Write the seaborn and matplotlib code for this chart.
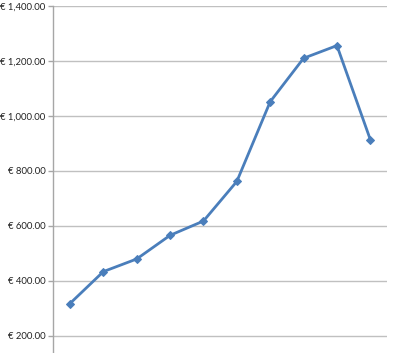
import matplotlib
matplotlib.use("Agg")
import matplotlib.pyplot as plt
import seaborn as sns
import pandas as pd
from matplotlib.ticker import FuncFormatter

periods = [1, 2, 3, 4, 5, 6, 7, 8, 9, 10]
values = [318, 434, 480, 566, 618, 762, 1052, 1210, 1256, 914]
yticks = [200, 400, 600, 800, 1000, 1200, 1400]

df = pd.DataFrame({"period": periods, "value": values})

sns.set_theme(style="white")
plt.rcParams['font.family'] = ['Lato', 'DejaVu Sans']

fig = plt.figure(figsize=(4.0, 3.53), dpi=100)
ax = fig.add_axes([53.3 / 400, 0.0, 333.7 / 400, 347 / 353])

sns.lineplot(data=df, x="period", y="value", ax=ax, color="#4a7ebb",
             linewidth=2.0, marker="D", markersize=4.5,
             markeredgecolor="#4a7ebb", markerfacecolor="#4a7ebb")

ax.set_xlim(0.5, 10.5)
ax.set_ylim(138, 1400)
ax.set_yticks(yticks)
ax.yaxis.set_major_formatter(FuncFormatter(lambda v, p: "€ {:,.2f}".format(v)))
ax.set_xticks([])
ax.set_xlabel("")
ax.set_ylabel("")

ax.grid(axis="y", color="#c0c0c0", linewidth=1.0)
ax.set_axisbelow(True)
for s in ["top", "right", "bottom"]:
    ax.spines[s].set_visible(False)
ax.spines["left"].set_color("#a6a6a6")
ax.spines["left"].set_linewidth(1.0)
ax.tick_params(axis="y", which="major", left=True, length=3.5, width=1.0,
               color="#a6a6a6", labelsize=6.8, labelcolor="#222222", pad=2)

fig.savefig("out.png", dpi=100)
